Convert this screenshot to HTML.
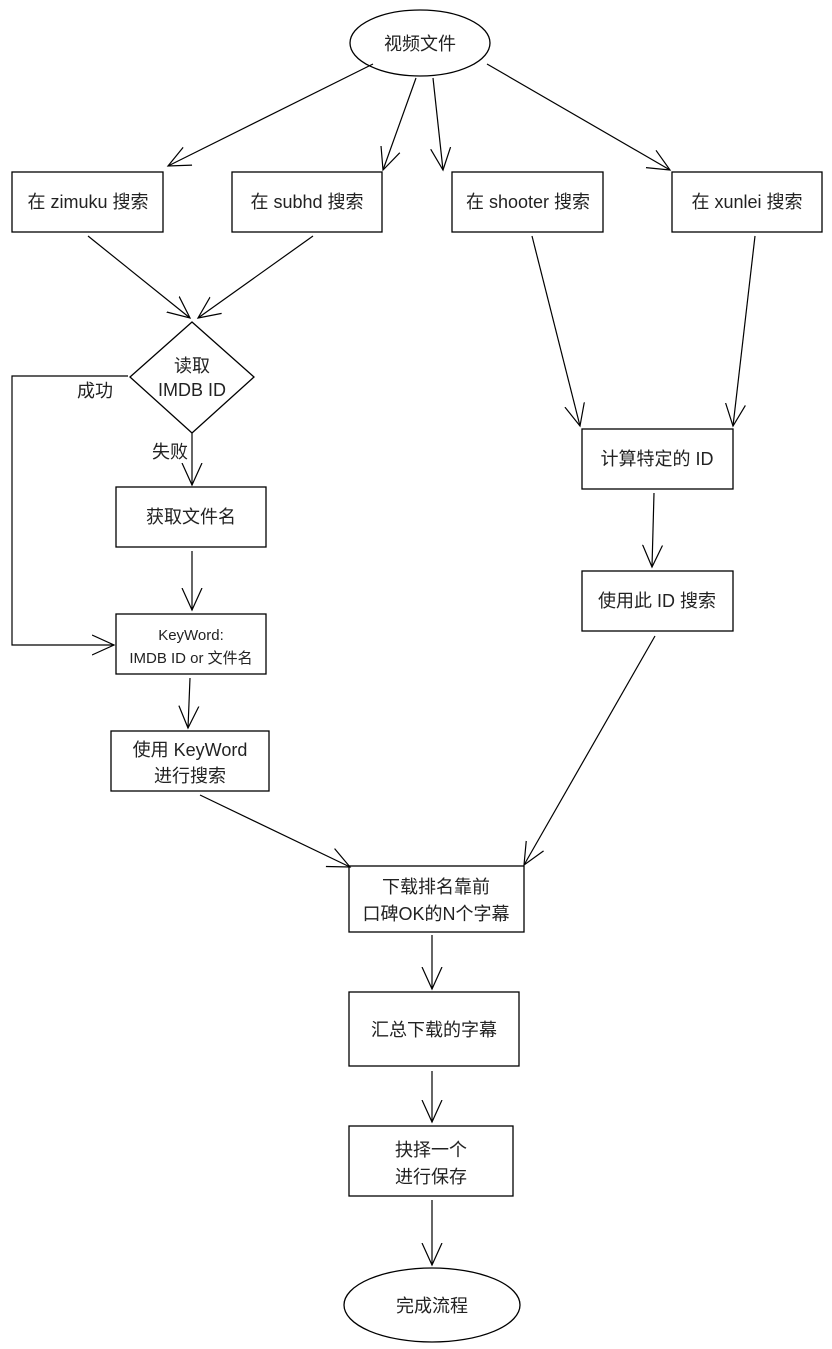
<!DOCTYPE html>
<html><head><meta charset="utf-8"><style>
html,body{margin:0;padding:0;background:#fff;}
svg{display:block;}
text{font-family:"Liberation Sans","Noto Sans CJK SC",sans-serif;font-size:18px;fill:#222;text-anchor:middle;}
</style></head><body>
<svg width="832" height="1349" viewBox="0 0 832 1349" xmlns="http://www.w3.org/2000/svg">
<defs>
<marker id="a" markerWidth="24" markerHeight="24" refX="22" refY="12" orient="auto" markerUnits="userSpaceOnUse">
<path d="M0,2 L22,12 L0,22" fill="none" stroke="#000" stroke-width="1.2"/>
</marker>
</defs>
<g fill="#fff" stroke="#000" stroke-width="1.3">
<ellipse cx="420" cy="43" rx="70" ry="33"/>
<rect x="12" y="172" width="151" height="60"/>
<rect x="232" y="172" width="150" height="60"/>
<rect x="452" y="172" width="151" height="60"/>
<rect x="672" y="172" width="150" height="60"/>
<polygon points="192,322 254,377 192,433 130,377"/>
<rect x="116" y="487" width="150" height="60"/>
<rect x="116" y="614" width="150" height="60"/>
<rect x="111" y="731" width="158" height="60"/>
<rect x="582" y="429" width="151" height="60"/>
<rect x="582" y="571" width="151" height="60"/>
<rect x="349" y="866" width="175" height="66"/>
<rect x="349" y="992" width="170" height="74"/>
<rect x="349" y="1126" width="164" height="70"/>
<ellipse cx="432" cy="1305" rx="88" ry="37"/>
</g>
<g fill="none" stroke="#000" stroke-width="1.2" marker-end="url(#a)">
<line x1="373" y1="64" x2="168" y2="166"/>
<line x1="416" y1="78" x2="383" y2="170"/>
<line x1="433" y1="78" x2="443" y2="170"/>
<line x1="487" y1="64" x2="670" y2="170"/>
<line x1="88" y1="236" x2="190" y2="318"/>
<line x1="313" y1="236" x2="198" y2="318"/>
<polyline points="128,376 12,376 12,645 114,645"/>
<line x1="192" y1="433" x2="192" y2="485"/>
<line x1="192" y1="551" x2="192" y2="610"/>
<line x1="190" y1="678" x2="188" y2="728"/>
<line x1="200" y1="795" x2="350" y2="867"/>
<line x1="532" y1="236" x2="580" y2="426"/>
<line x1="755" y1="236" x2="733" y2="426"/>
<line x1="654" y1="493" x2="652" y2="567"/>
<line x1="655" y1="636" x2="524" y2="865"/>
<line x1="432" y1="935" x2="432" y2="989"/>
<line x1="432" y1="1071" x2="432" y2="1122"/>
<line x1="432" y1="1200" x2="432" y2="1265"/>
</g>
<text x="420" y="50">视频文件</text>
<text x="88" y="208">在 zimuku 搜索</text>
<text x="307" y="208">在 subhd 搜索</text>
<text x="528" y="208">在 shooter 搜索</text>
<text x="747" y="208">在 xunlei 搜索</text>
<text x="192" y="372">读取</text>
<text x="192" y="396">IMDB ID</text>
<text x="95" y="397">成功</text>
<text x="170" y="458">失败</text>
<text x="191" y="523">获取文件名</text>
<text x="191" y="640" style="font-size:15px">KeyWord:</text>
<text x="191" y="663" style="font-size:15px">IMDB ID or 文件名</text>
<text x="190" y="756">使用 KeyWord</text>
<text x="190" y="782">进行搜索</text>
<text x="657" y="465">计算特定的 ID</text>
<text x="657" y="607">使用此 ID 搜索</text>
<text x="436" y="893">下载排名靠前</text>
<text x="436" y="920">口碑OK的N个字幕</text>
<text x="434" y="1036">汇总下载的字幕</text>
<text x="431" y="1156">抉择一个</text>
<text x="431" y="1183">进行保存</text>
<text x="432" y="1312">完成流程</text>
</svg>
</body></html>
